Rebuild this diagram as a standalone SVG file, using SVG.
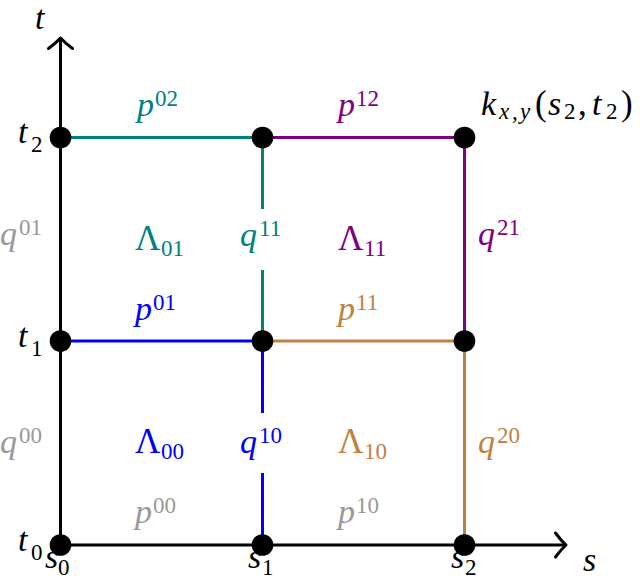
<svg xmlns="http://www.w3.org/2000/svg" width="640" height="580" viewBox="0 0 640 580" font-family="'Liberation Serif', 'DejaVu Serif', serif">
<style>
.m{font-size:34px;font-style:italic;font-family:'Liberation Serif', 'DejaVu Serif', serif;}
.g{font-size:35px;font-style:normal;font-family:'Liberation Serif', 'DejaVu Serif', serif;}
.s{font-size:23px;font-style:normal;}
.si{font-size:23px;font-style:italic;}
.k{fill:#000}
.teal{fill:#008080}
.purple{fill:#800080}
.blue{fill:#0000ff}
.brown{fill:#bf8040}
.gray{fill:#999999}
.ln{fill:none;stroke-width:3;}
.dot{fill:#000}
</style>
<defs>
<marker id="arr" markerUnits="userSpaceOnUse" viewBox="-14 -15 17 30" refX="0" refY="0" markerWidth="17" markerHeight="30" orient="auto" overflow="visible">
<path d="M-10.5,-12 Q-5,-4.5 0,0 Q-5,4.5 -10.5,12" fill="none" stroke="#000" stroke-width="3" stroke-linecap="round" stroke-linejoin="round"/>
</marker>
</defs>
<rect width="640" height="580" fill="#fff"/>
<g id="connectors">
<line class="ln" x1="60.5" y1="137.5" x2="262.5" y2="137.5" stroke="#008080"/>
<line class="ln" x1="262.5" y1="137.5" x2="464.5" y2="137.5" stroke="#800080"/>
<line class="ln" x1="262.5" y1="137.5" x2="262.5" y2="341" stroke="#008080"/>
<line class="ln" x1="464.5" y1="137.5" x2="464.5" y2="341" stroke="#800080"/>
<line class="ln" x1="60.5" y1="341" x2="262.5" y2="341" stroke="#0000ff"/>
<line class="ln" x1="262.5" y1="341" x2="464.5" y2="341" stroke="#bf8040"/>
<line class="ln" x1="262.5" y1="341" x2="262.5" y2="545" stroke="#0000ff"/>
<line class="ln" x1="464.5" y1="341" x2="464.5" y2="545" stroke="#bf8040"/>
<line id="axis-t" class="ln" x1="60.5" y1="545" x2="60.5" y2="38" stroke="#000" marker-end="url(#arr)"/>
<line id="axis-s" class="ln" x1="60.5" y1="545" x2="566" y2="545" stroke="#000" marker-end="url(#arr)"/>
</g>
<g id="edge-labels">
<text class="m teal" x="137" y="116">p<tspan class="s" x="155" y="106">02</tspan></text>
<text class="m purple" x="338" y="116">p<tspan class="s" x="356" y="106">12</tspan></text>
<text class="m gray" x="0" y="245">q<tspan class="s" x="19" y="235">01</tspan></text>
<g id="label-q11"><rect x="236" y="209" width="52" height="61" fill="#fff"/>
<text class="m teal" x="240" y="246">q<tspan class="s" x="259" y="236">11</tspan></text></g>
<text class="m purple" x="478" y="245">q<tspan class="s" x="497" y="235">21</tspan></text>
<text class="m blue" x="135" y="320">p<tspan class="s" x="153" y="310">01</tspan></text>
<text class="m brown" x="338" y="320">p<tspan class="s" x="356" y="310">11</tspan></text>
<text class="m gray" x="0" y="453">q<tspan class="s" x="19" y="443">00</tspan></text>
<g id="label-q10"><rect x="236" y="413" width="52" height="60" fill="#fff"/>
<text class="m blue" x="240" y="453">q<tspan class="s" x="259" y="443">10</tspan></text></g>
<text class="m brown" x="478" y="453">q<tspan class="s" x="497" y="443">20</tspan></text>
<text class="m gray" x="135" y="523">p<tspan class="s" x="153" y="513">00</tspan></text>
<text class="m gray" x="338" y="523">p<tspan class="s" x="356" y="513">10</tspan></text>
</g>
<g id="region-labels">
<text class="g teal" x="135" y="250">Λ<tspan class="s" x="161" y="256">01</tspan></text>
<text class="g purple" x="338" y="250">Λ<tspan class="s" x="364" y="256">11</tspan></text>
<text class="g blue" x="135" y="453">Λ<tspan class="s" x="161" y="459">00</tspan></text>
<text class="g brown" x="338" y="453">Λ<tspan class="s" x="364" y="459">10</tspan></text>
</g>
<g id="axis-labels">
<text class="m k" x="35" y="29">t</text>
<text class="m k" x="583" y="571">s</text>
<text class="m k" x="18" y="143">t<tspan class="s" x="31" y="152">2</tspan></text>
<text class="m k" x="18" y="347">t<tspan class="s" x="31" y="356">1</tspan></text>
<text class="m k" x="18" y="551">t<tspan class="s" x="31" y="560">0</tspan></text>
<text class="m k" x="45" y="568">s<tspan class="s" x="58" y="575">0</tspan></text>
<text class="m k" x="248" y="568">s<tspan class="s" x="262" y="575">1</tspan></text>
<text class="m k" x="451" y="568">s<tspan class="s" x="465" y="575">2</tspan></text>
</g>
<g id="node-s0t0"><circle class="dot" cx="60.5" cy="545" r="10.8"/></g>
<g id="node-s1t0"><circle class="dot" cx="262.5" cy="545" r="10.8"/></g>
<g id="node-s2t0"><circle class="dot" cx="464.5" cy="545" r="10.8"/></g>
<g id="node-s0t1"><circle class="dot" cx="60.5" cy="341" r="10.8"/></g>
<g id="node-s1t1"><circle class="dot" cx="262.5" cy="341" r="10.8"/></g>
<g id="node-s2t1"><circle class="dot" cx="464.5" cy="341" r="10.8"/></g>
<g id="node-s0t2"><circle class="dot" cx="60.5" cy="137.5" r="10.8"/></g>
<g id="node-s1t2"><circle class="dot" cx="262.5" cy="137.5" r="10.8"/></g>
<g id="node-s2t2"><circle class="dot" cx="464.5" cy="137.5" r="10.8"/>
<text class="m k" y="115"><tspan x="481">k</tspan><tspan class="si" x="499" y="119">x</tspan><tspan class="si" x="512" y="119">,</tspan><tspan class="si" x="520" y="119">y</tspan><tspan class="g" x="535" y="115">(</tspan><tspan x="548" y="115">s</tspan><tspan class="s" x="564" y="119">2</tspan><tspan class="g" x="578" y="115">,</tspan><tspan x="592" y="115">t</tspan><tspan class="s" x="606" y="119">2</tspan><tspan class="g" x="621" y="115">)</tspan></text>
</g>
</svg>
